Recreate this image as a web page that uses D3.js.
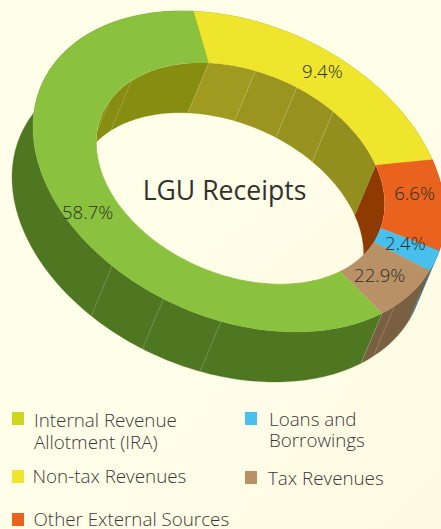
<!DOCTYPE html>
<html>
<head>
<meta charset="utf-8">
<script src="https://cdn.jsdelivr.net/npm/d3@7.9.0/dist/d3.min.js"></script>
<style>
  html, body { margin: 0; padding: 0; background: #fffde8; overflow: hidden; }
  svg { display: block; font-family: "Open Sans", sans-serif; }
</style>
</head>
<body>
<svg id="chart" width="441" height="529"></svg>
<script>
// slice sizes, in legend order
const categories = ["Internal Revenue Allotment (IRA)", "Non-tax Revenues", "Other External Sources", "Loans and Borrowings", "Tax Revenues"];
const shares = [58.7, 22.9, 9.4, 2.4, 6.6];
// the printed labels do not follow the slice sizes in the original
const sliceLabels = ["58.7%", "9.4%", "6.6%", "2.4%", "22.9%"];

const topColors = ["#8ac13e", "#efe52d", "#e9631f", "#47c0ee", "#b99167"];
const wallColors = ["#4f7722", "#9e9820", "#8e3a00", "#2b7fa3", "#7a6042"];
const innerColors = ["#868d10", "#9e9820", "#8e3a00", "#2b7fa3", "#7a6042"];
const swatchColors = ["#cfd61f", "#efe52d", "#e9631f", "#47c0ee", "#b99167"];

const rad = d3.scaleLinear().domain([0, 360]).range([0, 2 * Math.PI]);

// tilted ellipse of the ring
const cx = 239, cy = 171.5, rx = 206, ry = 160.5, tilt = rad(16);
const innerRatio = 0.70;
const depth = [-21, 50];
const startAngle = rad(46);
// the hole sits a little off centre and is a little flatter than the rim
const holeShift = [1.5, 2];
const holeFlatten = 0.01;

function project(t, r) {
    let k = (1 - r) / (1 - innerRatio);
    return [
        cx + k * holeShift[0] + rx * r * Math.cos(t),
        cy + k * holeShift[1] + ry * (r - k * holeFlatten) * Math.sin(t + tilt)
    ];
}
function drop(p) {
    return [p[0] + depth[0], p[1] + depth[1]];
}
function arcPoints(t0, t1, r) {
    let n = Math.max(2, Math.ceil(Math.abs(t1 - t0) / 0.02));
    return d3.range(n + 1).map((i) => project(t0 + (t1 - t0) * i / n, r));
}

const line = d3.line();
const svg = d3.select("#chart");

// faint gradient on the page background
const grad = svg.append("defs").append("linearGradient")
    .attr("id", "bg").attr("x1", 0).attr("y1", 0).attr("x2", 1).attr("y2", 1);
grad.append("stop").attr("offset", "55%").attr("stop-color", "#fffee9");
grad.append("stop").attr("offset", "100%").attr("stop-color", "#fffae3");
svg.append("rect").attr("width", 441).attr("height", 529).attr("fill", "url(#bg)");

const pie = d3.pie().value((d) => d).sort(null).startAngle(startAngle).endAngle(startAngle + 2 * Math.PI);
const slices = pie(shares);

function wallPath(t0, t1, r) {
    let pts = arcPoints(t0, t1, r);
    return line(pts.concat(pts.map(drop).reverse())) + "Z";
}
function ringPath(t0, t1) {
    return line(arcPoints(t0, t1, 1).concat(arcPoints(t1, t0, innerRatio))) + "Z";
}
function seam(g, t, r) {
    let p = project(rad(t), r);
    let q = drop(p);
    g.append("line").attr("x1", p[0]).attr("y1", p[1]).attr("x2", q[0]).attr("y2", q[1])
        .attr("stroke", "#fff").attr("stroke-opacity", 0.28).attr("stroke-width", 0.7);
}

// outer wall, far slices first
const outer = svg.append("g");
[2, 3, 4, 1, 0].forEach((i) => {
    let d = slices[i];
    outer.append("path").attr("d", wallPath(d.startAngle, d.endAngle, 1))
        .attr("fill", wallColors[i]).attr("stroke", wallColors[i]).attr("stroke-width", 0.3);
});
[41, 46, 95, 111.5, 128].forEach((t) => seam(outer, t, 1));

// hole, clipped inner wall on top of it
const holePath = line(arcPoints(0, 2 * Math.PI, innerRatio)) + "Z";
svg.append("clipPath").attr("id", "hole").append("path").attr("d", holePath);
svg.append("path").attr("d", holePath).attr("fill", "url(#bg)");
const inner = svg.append("g").attr("clip-path", "url(#hole)");

slices.forEach((d, i) => {
    if (i !== 1) {
        inner.append("path").attr("d", wallPath(d.startAngle, d.endAngle, innerRatio))
            .attr("fill", innerColors[i]).attr("stroke", innerColors[i]).attr("stroke-width", 0.3);
    }
});
// yellow wall has visibly stepped facets
const yellowFacets = [-102.7, -84, -67, -50, -20.3];
const yellowShades = ["#a09a20", "#9b951f", "#97921f", "#938f1e"];
d3.pairs(yellowFacets).forEach(([a, b], i) => {
    inner.append("path").attr("d", wallPath(rad(a), rad(b), innerRatio))
        .attr("fill", yellowShades[i]).attr("stroke", yellowShades[i]).attr("stroke-width", 0.3);
});
[-155, -139, -102.7, -84, -67, -50].forEach((t) => seam(inner, t, innerRatio));

// top face
svg.append("g").selectAll("path").data(slices).join("path")
    .attr("d", (d) => ringPath(d.startAngle, d.endAngle))
    .attr("fill", (d, i) => topColors[i])
    .attr("stroke", (d, i) => topColors[i])
    .attr("stroke-width", 0.3);

// slice labels sit mid ring, then a small nudge
const labelRing = (1 + innerRatio) / 2;
const labelNudge = [[2, 10], [-1, -5], [0, -10], [-1, -6], [-5, -2]];
const labelPos = (d, i) => {
    let p = project((d.startAngle + d.endAngle) / 2, labelRing);
    return [p[0] + labelNudge[i][0], p[1] + labelNudge[i][1]];
};
svg.append("g").selectAll("text").data(slices).join("text")
    .attr("x", (d, i) => labelPos(d, i)[0])
    .attr("y", (d, i) => labelPos(d, i)[1])
    .attr("text-anchor", "middle")
    .attr("dominant-baseline", "central")
    .attr("font-size", 18.6)
    .attr("font-weight", 300)
    .attr("fill", "#2e2e28")
    .text((d, i) => sliceLabels[i]);

svg.append("text").attr("x", 224.5).attr("y", 199.5).attr("text-anchor", "middle")
    .attr("font-size", 26.6).attr("fill", "#33312c").text("LGU Receipts");

// legend
const legendLines = [["Internal Revenue", "Allotment (IRA)"], ["Non-tax Revenues"], ["Other External Sources"], ["Loans and", "Borrowings"], ["Tax Revenues"]];
const swatchPos = [[12, 412], [12, 470], [12, 513], [245, 412], [245, 471]];
const textPos = [[34, 427], [32.5, 483], [33.5, 526], [269, 426], [268, 485]];
const leading = [22, 0, 0, 21, 0];
const legend = svg.append("g");
categories.forEach((c, i) => {
    legend.append("rect").attr("x", swatchPos[i][0]).attr("y", swatchPos[i][1])
        .attr("width", 12).attr("height", 13).attr("fill", swatchColors[i]);
    legendLines[i].forEach((txt, j) => {
        legend.append("text").attr("x", textPos[i][0]).attr("y", textPos[i][1] + j * leading[i])
            .attr("font-size", 18.8).attr("font-weight", 300).attr("fill", "#3a3a36").text(txt);
    });
});
</script>
</body>
</html>
